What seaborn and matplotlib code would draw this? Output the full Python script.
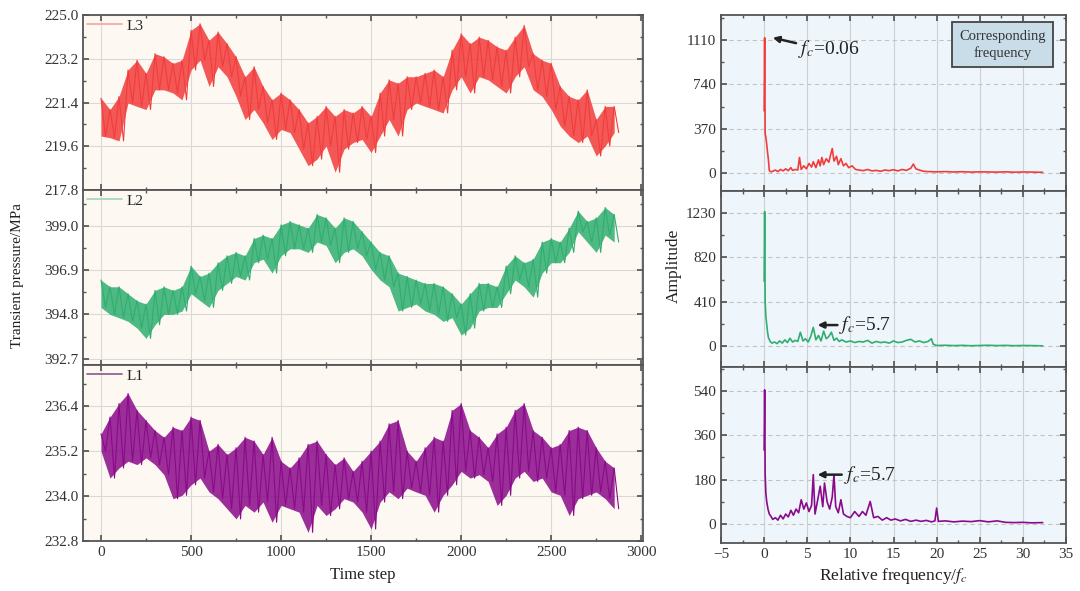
import numpy as np
import pandas as pd
import matplotlib
matplotlib.use("Agg")
import matplotlib.pyplot as plt
import seaborn as sns
from matplotlib.ticker import AutoMinorLocator
from matplotlib.lines import Line2D

# ---------------- data ----------------
steps = list(range(0, 2900, 50))  # sampling positions of envelope readings

L3_hi = [221.58, 221.11, 221.65, 222.74, 223.14, 222.60, 223.41, 223.28, 223.01, 223.14,
         224.37, 224.64, 223.96, 224.30, 223.82, 223.28, 222.46, 222.87, 222.06, 221.51,
         221.79, 221.51, 221.11, 220.56, 220.83, 221.24, 220.83, 221.11, 220.97, 221.24,
         220.83, 221.79, 222.33, 222.19, 222.46, 222.46, 222.60, 222.74, 222.46, 223.55,
         224.23, 223.82, 224.09, 223.96, 223.69, 223.55, 224.09, 224.57, 223.41, 223.14,
         223.01, 222.06, 221.65, 221.51, 221.92, 220.70, 221.24, 221.24]
L3_lo = [220.02, 219.95, 219.82, 221.38, 221.24, 221.11, 221.92, 221.92, 221.79, 221.51,
         222.74, 223.14, 222.06, 222.87, 222.46, 221.65, 220.70, 221.11, 220.56, 219.88,
         220.29, 220.16, 219.48, 218.80, 219.07, 219.61, 218.53, 219.48, 219.75, 219.88,
         219.34, 220.02, 220.70, 220.02, 221.11, 221.38, 221.24, 221.11, 220.97, 221.92,
         222.46, 221.79, 222.46, 222.33, 222.06, 221.79, 222.46, 222.87, 221.92, 221.65,
         221.11, 220.43, 220.02, 219.75, 220.02, 219.20, 219.61, 220.16]

L2_hi = [396.43, 396.11, 396.11, 395.78, 395.45, 395.29, 395.94, 396.11, 395.94, 396.11,
         397.09, 396.60, 396.76, 397.25, 397.58, 397.74, 397.58, 398.40, 398.56, 398.40,
         399.05, 399.21, 399.05, 398.89, 399.54, 399.38, 398.89, 399.38, 399.21, 398.72,
         398.23, 397.74, 397.58, 396.76, 396.60, 396.43, 396.27, 396.27, 396.11, 395.78,
         395.29, 395.78, 396.27, 396.27, 396.11, 397.09, 397.58, 397.25, 397.42, 398.23,
         398.40, 398.23, 398.89, 399.70, 399.21, 399.38, 399.87, 399.54]
L2_lo = [395.13, 394.80, 394.64, 394.47, 394.15, 393.66, 394.31, 394.80, 394.80, 394.96,
         395.78, 395.45, 395.13, 395.94, 396.27, 396.60, 396.43, 397.25, 397.42, 396.76,
         397.58, 397.91, 397.91, 397.74, 398.23, 398.07, 397.25, 397.74, 397.91, 397.58,
         396.93, 396.43, 396.11, 394.96, 395.13, 395.29, 394.96, 394.80, 394.47, 394.64,
         393.82, 394.15, 394.96, 395.13, 395.13, 395.78, 396.43, 396.11, 395.62, 396.76,
         397.25, 397.25, 397.74, 398.72, 398.23, 397.74, 398.56, 398.23]

L1_hi = [235.66, 236.11, 236.47, 236.74, 236.29, 236.02, 235.75, 235.57, 235.84, 235.75,
         236.11, 236.02, 235.20, 235.38, 235.11, 235.29, 235.57, 235.47, 235.11, 235.57,
         234.93, 234.75, 235.02, 235.38, 235.47, 235.11, 234.84, 235.02, 234.66, 234.93,
         235.20, 235.47, 235.93, 236.02, 235.20, 234.93, 235.29, 235.57, 235.47, 236.29,
         236.47, 235.75, 235.57, 235.29, 235.66, 235.84, 236.29, 236.47, 235.75, 235.57,
         235.29, 235.38, 235.75, 235.84, 235.75, 235.29, 234.93, 234.75]
L1_lo = [235.20, 234.48, 234.75, 234.93, 234.84, 235.02, 234.84, 234.57, 233.93, 234.02,
         234.30, 234.48, 234.11, 233.93, 233.66, 233.39, 233.75, 233.57, 233.84, 233.30,
         233.75, 233.66, 233.57, 233.03, 233.75, 233.48, 233.66, 233.93, 233.84, 233.57,
         233.12, 233.84, 234.11, 233.93, 234.21, 234.11, 234.02, 233.57, 234.02, 234.30,
         234.66, 234.48, 234.57, 234.39, 233.75, 234.02, 234.48, 234.66, 234.39, 234.48,
         234.11, 234.02, 233.48, 233.93, 234.02, 234.11, 233.93, 233.66]

f3 = [0, 0.06, 0.12, 0.2, 0.3, 0.4, 0.5, 0.6, 0.8, 1.0, 1.3, 1.6, 1.9, 2.2, 2.5, 2.8, 3.1, 3.3, 3.6, 3.9,
      4.1, 4.3, 4.6, 4.9, 5.2, 5.5, 5.7, 6.0, 6.3, 6.5, 6.7, 6.9, 7.2, 7.5, 7.7, 7.9, 8.1, 8.4, 8.6, 8.9,
      9.2, 9.5, 9.8, 10.2, 10.6, 11.0, 11.5, 12.0, 12.5, 13.0, 13.5, 14.0, 14.5, 15.0, 15.5, 16.0, 16.5,
      17.0, 17.3, 17.6, 18.0, 18.5, 19.0, 20, 21, 22, 23, 24, 25, 26, 27, 28, 29, 30, 31, 32.3]
a3 = [520, 1130, 330, 300, 240, 170, 110, 20, 10, 15, 25, 12, 30, 18, 35, 20, 45, 22, 30, 25,
      130, 30, 60, 35, 80, 50, 95, 45, 110, 60, 130, 70, 120, 90, 150, 205, 100, 140, 70, 120,
      60, 80, 45, 60, 30, 25, 20, 30, 18, 22, 15, 25, 20, 28, 18, 30, 22, 40, 75, 35,
      25, 15, 12, 10, 12, 9, 11, 8, 10, 9, 8, 10, 7, 9, 8, 6]

f2 = [0, 0.06, 0.12, 0.2, 0.3, 0.4, 0.5, 0.7, 0.9, 1.2, 1.5, 1.8, 2.1, 2.4, 2.7, 3.0, 3.3, 3.6, 3.9, 4.2,
      4.5, 4.8, 5.1, 5.4, 5.7, 6.0, 6.3, 6.6, 6.9, 7.2, 7.5, 7.8, 8.1, 8.4, 8.7, 9.0, 9.5, 10, 10.5, 11,
      11.5, 12, 12.5, 13, 13.5, 14, 14.5, 15, 15.5, 16, 16.5, 17, 17.5, 18, 18.5, 19, 19.4, 19.6, 20, 21,
      22, 23, 24, 25, 26, 27, 28, 29, 30, 31, 32.3]
a2 = [600, 1240, 420, 280, 200, 130, 80, 45, 30, 40, 25, 50, 30, 60, 35, 75, 40, 55, 45, 130,
      50, 70, 40, 90, 175, 60, 100, 50, 140, 70, 90, 130, 55, 75, 45, 60, 40, 50, 35, 45,
      40, 55, 30, 45, 35, 40, 30, 50, 35, 40, 55, 65, 40, 50, 35, 45, 70, 20, 8, 10,
      7, 9, 6, 8, 10, 7, 9, 6, 8, 7, 5]

f1 = [0, 0.06, 0.12, 0.2, 0.3, 0.45, 0.6, 0.8, 1.0, 1.3, 1.6, 1.9, 2.2, 2.5, 2.8, 3.1, 3.4, 3.7, 4.0, 4.3,
      4.6, 4.9, 5.2, 5.5, 5.7, 5.9, 6.2, 6.5, 6.8, 7.0, 7.3, 7.6, 7.9, 8.1, 8.3, 8.6, 8.9, 9.2, 9.6, 10.0,
      10.5, 11.0, 11.4, 11.8, 12.3, 12.7, 13.2, 13.7, 14.2, 14.7, 15.2, 15.8, 16.4, 17.0, 17.6, 18.2, 18.8,
      19.4, 19.8, 20.0, 20.2, 21, 22, 23, 24, 25, 26, 27, 28, 29, 30, 31, 32.3]
a1 = [300, 545, 200, 125, 90, 60, 40, 30, 18, 25, 15, 35, 20, 40, 28, 55, 35, 60, 45, 98,
      60, 85, 50, 75, 200, 40, 95, 153, 70, 166, 90, 60, 110, 200, 70, 45, 98, 40, 30, 25,
      50, 30, 50, 35, 91, 25, 30, 15, 25, 15, 20, 12, 18, 10, 15, 10, 14, 8, 12, 64,
      10, 12, 8, 11, 9, 13, 8, 12, 6, 5, 6, 4, 5]

names = ["L3", "L2", "L1"]
left_ticks = [[217.8, 219.6, 221.4, 223.2, 225.0],
              [392.7, 394.8, 396.9, 399.0],
              [232.8, 234.0, 235.2, 236.4]]
left_lims = [(217.8, 225.0), (392.4, 400.7), (232.8, 237.5)]
right_ticks = [[0, 370, 740, 1110], [0, 410, 820, 1230], [0, 180, 360, 540]]
right_lims = [(-150, 1320), (-190, 1430), (-78, 638)]
time_ticks = [0, 500, 1000, 1500, 2000, 2500, 3000]
freq_ticks = [-5, 0, 5, 10, 15, 20, 25, 30, 35]

colors = ["#f23c3c", "#2fae70", "#8a0a8a"]
legend_colors = ["#f5a3a3", "#9fd4b8", "#8a5a8a"]

# ---------------- style ----------------
sns.set_theme(style="ticks")
plt.rcParams["font.family"] = ["Liberation Serif", "DejaVu Serif"]
plt.rcParams["mathtext.fontset"] = "stix"

W, H = 1080, 591
fig = plt.figure(figsize=(W / 100, H / 100), dpi=100)


def ax_at(l, t, r, b):
    return fig.add_axes([l / W, 1 - b / H, (r - l) / W, (b - t) / H])


def style_axes(ax, face):
    ax.set_facecolor(face)
    for s in ax.spines.values():
        s.set_color("#555555")
        s.set_linewidth(1.3)
    ax.tick_params(which="both", direction="in", top=True, right=True, color="#555555",
                   labelsize=11, labelcolor="#333333")
    ax.tick_params(which="major", length=4)
    ax.tick_params(which="minor", length=2.5)
    ax.xaxis.set_minor_locator(AutoMinorLocator(2))
    ax.yaxis.set_minor_locator(AutoMinorLocator(2))


left_rows = [(15, 190), (190, 365), (365, 541)]
right_rows = [(15, 191), (191, 367), (367, 543)]
hi_lo = [(L3_hi, L3_lo), (L2_hi, L2_lo), (L1_hi, L1_lo)]
spectra = [(f3, a3), (f2, a2), (f1, a1)]

for i in range(3):
    # ---- left: transient pressure ----
    ax = ax_at(83, left_rows[i][0], 643, left_rows[i][1])
    style_axes(ax, "#fdf9f2")
    hi, lo = hi_lo[i]
    xs, ys = [], []
    for s, h, l in zip(steps, hi, lo):
        xs += [s, s + 25]
        ys += [h, l]
    df = pd.DataFrame({"t": xs, "p": ys})
    ax.fill_between(steps, lo, hi, color=colors[i], alpha=0.85, lw=0)
    sns.lineplot(data=df, x="t", y="p", ax=ax, color=colors[i], lw=0.8,
                 sort=False, estimator=None)
    ax.set_xlim(-100, 3010)
    ax.set_ylim(*left_lims[i])
    ax.set_xticks(time_ticks)
    ax.set_yticks(left_ticks[i])
    ax.set_yticklabels([f"{v:.1f}" for v in left_ticks[i]])
    ax.grid(True, which="major", color="#d9d9d9", lw=0.8)
    ax.set_axisbelow(True)
    ax.set_xlabel("")
    ax.set_ylabel("")
    if i < 2:
        ax.tick_params(labelbottom=False)
    handle = Line2D([], [], color=legend_colors[i], lw=1.2)
    ax.legend([handle], [names[i]], loc="upper left", frameon=False, fontsize=11,
              handlelength=2.3, handletextpad=0.3, borderaxespad=0.0, borderpad=0.25)

    # ---- right: spectrum ----
    axr = ax_at(721, right_rows[i][0], 1066, right_rows[i][1])
    style_axes(axr, "#eef6fb")
    fr, am = spectra[i]
    dfs = pd.DataFrame({"f": fr, "a": am})
    sns.lineplot(data=dfs, x="f", y="a", ax=axr, color=colors[i], lw=1.2,
                 sort=False, estimator=None)
    axr.set_xlim(-5, 35)
    axr.set_ylim(*right_lims[i])
    axr.set_xticks(freq_ticks)
    axr.set_yticks(right_ticks[i])
    axr.xaxis.grid(True, which="major", color="#d0d0d0", lw=0.8, ls="-")
    axr.yaxis.grid(True, which="major", color="#c4c4c4", lw=0.8, ls=(0, (4, 3)))
    axr.set_axisbelow(True)
    axr.set_xlabel("")
    axr.set_ylabel("")
    if i < 2:
        axr.tick_params(labelbottom=False)

    if i == 0:
        axr.annotate("", xy=(1.0, 1130), xytext=(3.7, 1085),
                     arrowprops=dict(arrowstyle="-|>", color="#222222", lw=1.8,
                                     mutation_scale=9, shrinkA=0, shrinkB=0))
        axr.text(3.9, 1040, r"$f_c$=0.06", fontsize=14, ha="left", va="center",
                 color="#222222")
        axr.text(0.815, 0.83, "Corresponding\nfrequency", transform=axr.transAxes,
                 ha="center", va="center", fontsize=10.5, color="#333333", linespacing=1.35,
                 bbox=dict(boxstyle="square,pad=0.5", fc="#c9dde9", ec="#444444", lw=1.3))
    elif i == 1:
        axr.annotate("", xy=(6.2, 196), xytext=(8.5, 196),
                     arrowprops=dict(arrowstyle="-|>", color="#222222", lw=1.8,
                                     mutation_scale=9, shrinkA=0, shrinkB=0))
        axr.text(8.7, 196, r"$f_c$=5.7", fontsize=14, ha="left", va="center",
                 color="#222222")
    else:
        axr.annotate("", xy=(6.2, 200), xytext=(9.0, 200),
                     arrowprops=dict(arrowstyle="-|>", color="#222222", lw=1.8,
                                     mutation_scale=9, shrinkA=0, shrinkB=0))
        axr.text(9.3, 200, r"$f_c$=5.7", fontsize=14, ha="left", va="center",
                 color="#222222")

fig.text(18 / W, 1 - 275 / H, "Transient pressure/MPa", rotation=90, ha="center",
         va="center", fontsize=11, color="#222222")
fig.text(363 / W, 1 - 575 / H, "Time step", ha="center", va="center", fontsize=12,
         color="#222222")
fig.text(674 / W, 1 - 266 / H, "Amplitude", rotation=90, ha="center", va="center",
         fontsize=12.5, color="#222222")
fig.text(893 / W, 1 - 576 / H, r"Relative frequency/$f_c$", ha="center", va="center",
         fontsize=12.5, color="#222222")

fig.savefig("out.png", dpi=100)
